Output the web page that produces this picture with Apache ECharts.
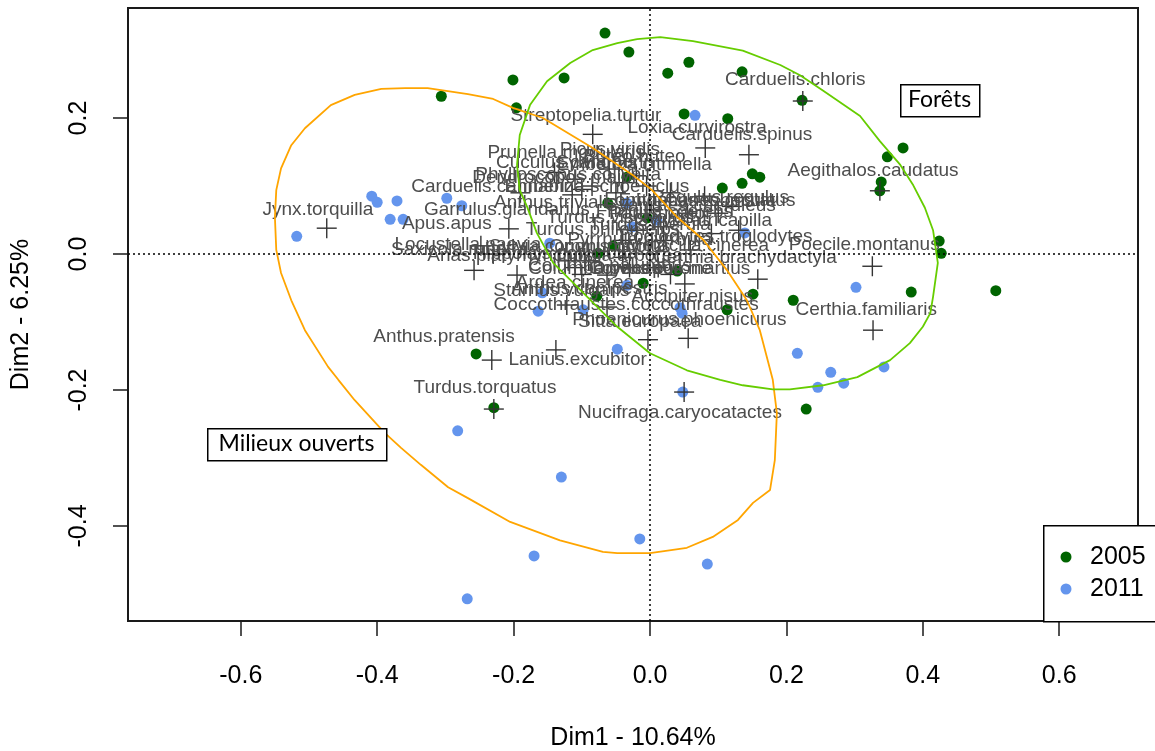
<!DOCTYPE html>
<html>
<head>
<meta charset="utf-8">
<script src="https://cdn.jsdelivr.net/npm/echarts@6/dist/echarts.min.js"></script>
<style>html,body{margin:0;padding:0;background:#fff}#c{width:1155px;height:751px}</style>
</head>
<body>
<div id="c"></div>
<script>
// ---- tick values ----
const xTicks = [-0.6, -0.4, -0.2, 0, 0.2, 0.4, 0.6];
const yTicks = [-0.4, -0.2, 0, 0.2];

// ---- individuals (sites) by year ----
const pts2005 = [[-0.306,0.232],[-0.201,0.256],[-0.196,0.215],[-0.126,0.259],[-0.066,0.325],[-0.031,0.297],[0.026,0.266],[0.057,0.282],[0.050,0.206],[0.114,0.199],[0.135,0.268],[0.223,0.226],[0.371,0.156],[0.348,0.143],[0.339,0.106],[0.337,0.093],[0.106,0.097],[0.135,0.104],[0.150,0.118],[0.161,0.113],[0.424,0.019],[0.427,0.001],[0.383,-0.056],[0.507,-0.054],[0.210,-0.068],[0.151,-0.059],[0.113,-0.082],[0.229,-0.228],[-0.255,-0.147],[-0.229,-0.226],[-0.078,-0.062],[-0.010,-0.043],[0.040,-0.025],[-0.034,0.113],[-0.062,0.075],[-0.004,0.053],[-0.076,0.001],[-0.054,0.012]];
const pts2011 = [[-0.408,0.085],[-0.400,0.076],[-0.371,0.078],[-0.381,0.051],[-0.362,0.051],[-0.518,0.026],[-0.298,0.082],[-0.276,0.071],[0.066,0.204],[0.139,0.031],[0.302,-0.049],[0.216,-0.146],[0.265,-0.174],[0.284,-0.190],[0.343,-0.166],[0.246,-0.196],[-0.048,-0.140],[-0.164,-0.084],[-0.158,-0.057],[0.044,-0.079],[0.047,-0.087],[0.048,-0.203],[-0.282,-0.260],[-0.130,-0.328],[-0.015,-0.419],[-0.170,-0.444],[0.084,-0.456],[-0.268,-0.507],[-0.034,-0.046],[-0.098,-0.082],[-0.147,0.016],[-0.034,0.075],[0.010,0.050],[-0.026,0.040]];

// ---- species (variables) ----
const species = ["Jynx.torquilla","Streptopelia.turtur","Loxia.curvirostra","Carduelis.spinus","Carduelis.chloris","Aegithalos.caudatus","Poecile.montanus","Certhia.familiaris","Nucifraga.caryocatactes","Turdus.torquatus","Anthus.pratensis","Lanius.excubitor","Phoenicurus.phoenicurus","Sitta.europaea","Accipiter.nisus","Coccothraustes.coccothraustes","Sturnus.vulgaris","Anthus.campestris","Ardea.cinerea","Columba.oenas","Columba.palumbus","Dryocopus.martius","Certhia.brachydactyla","Motacilla.cinerea","Troglodytes.troglodytes","Sylvia.atricapilla","Lophophanes.cristatus","Erithacus.rubecula","Regulus.regulus","Cyanistes.caeruleus","Fringilla.coelebs","Parus.major","Anthus.trivialis","Garrulus.glandarius","Apus.apus","Carduelis.cannabina","Emberiza.schoeniclus","Dendrocopos.major","Phylloscopus.collybita","Prunella.modularis","Picus.viridis","Buteo.buteo","Cuculus.canorus","Sylvia.borin","Emberiza.citrinella","Locustella.naevia","Saxicola.rubetra","Anas.platyrhynchos","Turdus.philomelos","Turdus.merula","Turdus.viscivorus","Pyrrhula.pyrrhula","Sylvia.communis","Oriolus.oriolus","Lullula.arborea","Hippolais.polyglotta","Corvus.corone"];
const speciesX = [-0.474,-0.084,0.081,0.145,0.224,0.337,0.326,0.327,0.050,-0.229,-0.232,-0.138,0.056,-0.003,0.051,-0.063,-0.122,-0.100,-0.063,-0.090,0.012,0.059,0.158,0.090,0.130,0.100,0.120,0.030,0.080,0.055,0.020,0.005,-0.114,-0.207,-0.248,-0.190,-0.040,-0.100,-0.085,-0.140,-0.060,-0.020,-0.110,-0.050,-0.005,-0.230,-0.258,-0.195,-0.040,0.020,-0.020,0.000,-0.120,-0.040,-0.030,-0.110,0.030];
const speciesY = [0.038,0.176,0.156,0.146,0.225,0.093,-0.018,-0.112,-0.203,-0.228,-0.156,-0.141,-0.124,-0.126,-0.044,-0.078,-0.075,-0.030,-0.031,-0.010,-0.020,0.006,-0.037,0.030,0.035,0.060,0.070,0.090,0.085,0.060,0.040,0.065,0.087,0.037,0.012,0.090,0.105,0.095,0.100,0.120,0.125,0.115,0.110,0.090,0.100,0.000,-0.024,-0.031,0.020,0.020,0.035,0.000,-0.010,-0.005,-0.020,-0.020,-0.030];
const labelX = [-0.487,-0.094,0.069,0.135,0.213,0.327,0.314,0.317,0.044,-0.242,-0.302,-0.106,0.043,-0.015,0.062,-0.035,-0.130,-0.089,-0.110,-0.081,-0.059,0.031,0.139,0.070,0.094,0.079,0.073,0.069,0.103,0.059,0.021,0.015,-0.139,-0.210,-0.298,-0.223,-0.078,-0.139,-0.120,-0.123,-0.059,-0.023,-0.122,-0.066,-0.023,-0.267,-0.279,-0.205,-0.069,0.000,-0.044,-0.015,-0.132,-0.059,-0.044,-0.139,0.000];
const labelY = [0.065,0.203,0.185,0.175,0.256,0.122,0.013,-0.082,-0.234,-0.197,-0.121,-0.156,-0.097,-0.100,-0.063,-0.075,-0.054,-0.051,-0.043,-0.021,-0.018,-0.021,-0.006,0.012,0.026,0.049,0.078,0.079,0.082,0.071,0.062,0.059,0.076,0.065,0.044,0.099,0.099,0.112,0.116,0.149,0.153,0.143,0.134,0.134,0.131,0.013,0.006,-0.003,0.035,0.043,0.053,0.021,0.010,0.010,-0.003,0.000,-0.021];

// ---- confidence contours ----
const contourOpen = [[-0.548,0.094],[-0.541,0.126],[-0.526,0.160],[-0.506,0.185],[-0.468,0.219],[-0.433,0.234],[-0.394,0.243],[-0.359,0.244],[-0.326,0.244],[-0.267,0.235],[-0.230,0.228],[-0.201,0.215],[-0.157,0.200],[-0.084,0.156],[-0.025,0.116],[0.003,0.094],[0.040,0.054],[0.078,0.021],[0.113,-0.024],[0.142,-0.068],[0.161,-0.112],[0.180,-0.185],[0.186,-0.234],[0.183,-0.303],[0.176,-0.347],[0.151,-0.366],[0.129,-0.391],[0.092,-0.416],[0.054,-0.432],[0.000,-0.440],[-0.048,-0.440],[-0.069,-0.438],[-0.132,-0.421],[-0.205,-0.394],[-0.267,-0.359],[-0.296,-0.343],[-0.336,-0.310],[-0.365,-0.285],[-0.389,-0.263],[-0.433,-0.215],[-0.457,-0.185],[-0.472,-0.166],[-0.506,-0.112],[-0.526,-0.068],[-0.541,-0.028],[-0.548,0.006],[-0.550,0.054],[-0.548,0.094]];
const contourForest = [[-0.019,0.316],[0.015,0.319],[0.063,0.313],[0.136,0.299],[0.191,0.278],[0.220,0.263],[0.254,0.240],[0.308,0.203],[0.337,0.166],[0.367,0.131],[0.386,0.101],[0.403,0.068],[0.415,0.035],[0.422,-0.013],[0.415,-0.063],[0.411,-0.087],[0.400,-0.107],[0.381,-0.131],[0.352,-0.156],[0.304,-0.181],[0.254,-0.193],[0.205,-0.199],[0.180,-0.199],[0.136,-0.193],[0.103,-0.185],[0.054,-0.171],[0.000,-0.146],[-0.048,-0.107],[-0.092,-0.063],[-0.142,-0.013],[-0.166,0.031],[-0.180,0.069],[-0.191,0.094],[-0.195,0.131],[-0.191,0.175],[-0.176,0.219],[-0.151,0.254],[-0.117,0.281],[-0.084,0.300],[-0.048,0.310],[-0.019,0.316]];

const FONT = '"Liberation Sans", Arial, sans-serif';
const speciesPts = speciesX.map((x, i) => [x, speciesY[i]]);
const labelPts = labelX.map((x, i) => [x, labelY[i]]);

const chart = echarts.init(document.getElementById('c'), null, {renderer: 'canvas'});
chart.setOption({
  animation: false,
  backgroundColor: '#fff',
  grid: {left: 128, top: 8, width: 1010, height: 613, containLabel: false, outerBoundsMode: 'none',
         show: true, borderColor: '#1a1a1a', borderWidth: 2, backgroundColor: 'transparent'},
  xAxis: {
    type: 'value', min: -0.7654, max: 0.7155,
    axisLine: {show: false, onZero: false}, splitLine: {show: false},
    axisTick: {show: true, length: 15, customValues: xTicks, lineStyle: {color: '#1a1a1a', width: 1.5}},
    axisLabel: {customValues: xTicks, formatter: v => v.toFixed(1), fontSize: 25, color: '#000', margin: 43, fontFamily: FONT},
    name: 'Dim1 - 10.64%', nameLocation: 'middle', nameGap: 105,
    nameTextStyle: {fontSize: 25, color: '#000', fontFamily: FONT}
  },
  yAxis: {
    type: 'value', min: -0.5397, max: 0.3618,
    axisLine: {show: false, onZero: false}, splitLine: {show: false},
    axisTick: {show: true, length: 15, customValues: yTicks, lineStyle: {color: '#1a1a1a', width: 1.5}},
    axisLabel: {customValues: yTicks, formatter: v => v.toFixed(1), fontSize: 25, color: '#000', margin: 36, rotate: 90, fontFamily: FONT},
    name: 'Dim2 - 6.25%', nameLocation: 'middle', nameGap: 94, nameRotate: 90,
    nameTextStyle: {fontSize: 25, color: '#000', fontFamily: FONT}
  },
  series: [
    {
      name: '2005', type: 'scatter', data: pts2005, symbol: 'circle', symbolSize: 11,
      itemStyle: {color: '#006400', opacity: 1}, z: 2
    },
    {
      name: '2011', type: 'scatter', data: pts2011, symbol: 'circle', symbolSize: 11,
      itemStyle: {color: '#6495ED', opacity: 1}, z: 2,
      markLine: {
        silent: true, symbol: 'none', label: {show: false},
        lineStyle: {color: '#000', type: [2, 3], width: 1.5},
        data: [{xAxis: 0}, {yAxis: 0}]
      }
    },
    {
      name: 'species', type: 'custom', data: speciesPts, z: 3,
      renderItem: (params, api) => {
        const p = api.coord([api.value(0), api.value(1)]);
        const h = 10;
        return {type: 'group', children: [
          {type: 'line', shape: {x1: p[0] - h, y1: p[1], x2: p[0] + h, y2: p[1]}, style: {stroke: '#333', lineWidth: 1.4}},
          {type: 'line', shape: {x1: p[0], y1: p[1] - h, x2: p[0], y2: p[1] + h}, style: {stroke: '#333', lineWidth: 1.4}}
        ]};
      }
    },
    {
      name: 'labels', type: 'custom', data: labelPts, z: 4,
      renderItem: (params, api) => {
        const p = api.coord([api.value(0), api.value(1)]);
        return {type: 'text', x: p[0], y: p[1], style: {
          text: species[params.dataIndex], fill: '#4d4d4d', fontSize: 19, fontFamily: FONT,
          align: 'center', verticalAlign: 'middle'
        }};
      }
    },
    {
      name: 'Milieux ouverts', type: 'line', data: contourOpen, showSymbol: false, smooth: false, z: 5,
      lineStyle: {color: '#FFA500', width: 1.8}
    },
    {
      name: 'Forêts', type: 'line', data: contourForest, showSymbol: false, smooth: false, z: 5,
      lineStyle: {color: '#66CD00', width: 1.8}
    }
  ],
  graphic: [
    {type: 'rect', left: 900, top: 84, shape: {width: 79, height: 32}, style: {fill: '#fff', stroke: '#000', lineWidth: 1.5}, z: 10},
    {type: 'text', x: 939.5, y: 100, style: {text: 'Forêts', fill: '#000', fontSize: 23, fontFamily: 'Lato, "Open Sans", sans-serif', align: 'center', verticalAlign: 'middle'}, z: 11},
    {type: 'rect', left: 207, top: 428, shape: {width: 179, height: 32}, style: {fill: '#fff', stroke: '#000', lineWidth: 1.5}, z: 10},
    {type: 'text', x: 296.5, y: 444, style: {text: 'Milieux ouverts', fill: '#000', fontSize: 23, fontFamily: 'Lato, "Open Sans", sans-serif', align: 'center', verticalAlign: 'middle'}, z: 11},
    {type: 'rect', left: 1043, top: 525, shape: {width: 150, height: 96}, style: {fill: '#fff', stroke: '#000', lineWidth: 1.5}, z: 10},
    {type: 'circle', shape: {cx: 1066, cy: 557, r: 5.5}, style: {fill: '#006400'}, z: 11},
    {type: 'circle', shape: {cx: 1066, cy: 589, r: 5.5}, style: {fill: '#6495ED'}, z: 11},
    {type: 'text', x: 1090, y: 557, style: {text: '2005', fill: '#000', fontSize: 25, fontFamily: FONT, verticalAlign: 'middle'}, z: 11},
    {type: 'text', x: 1090, y: 589, style: {text: '2011', fill: '#000', fontSize: 25, fontFamily: FONT, verticalAlign: 'middle'}, z: 11}
  ]
});
</script>
</body>
</html>
